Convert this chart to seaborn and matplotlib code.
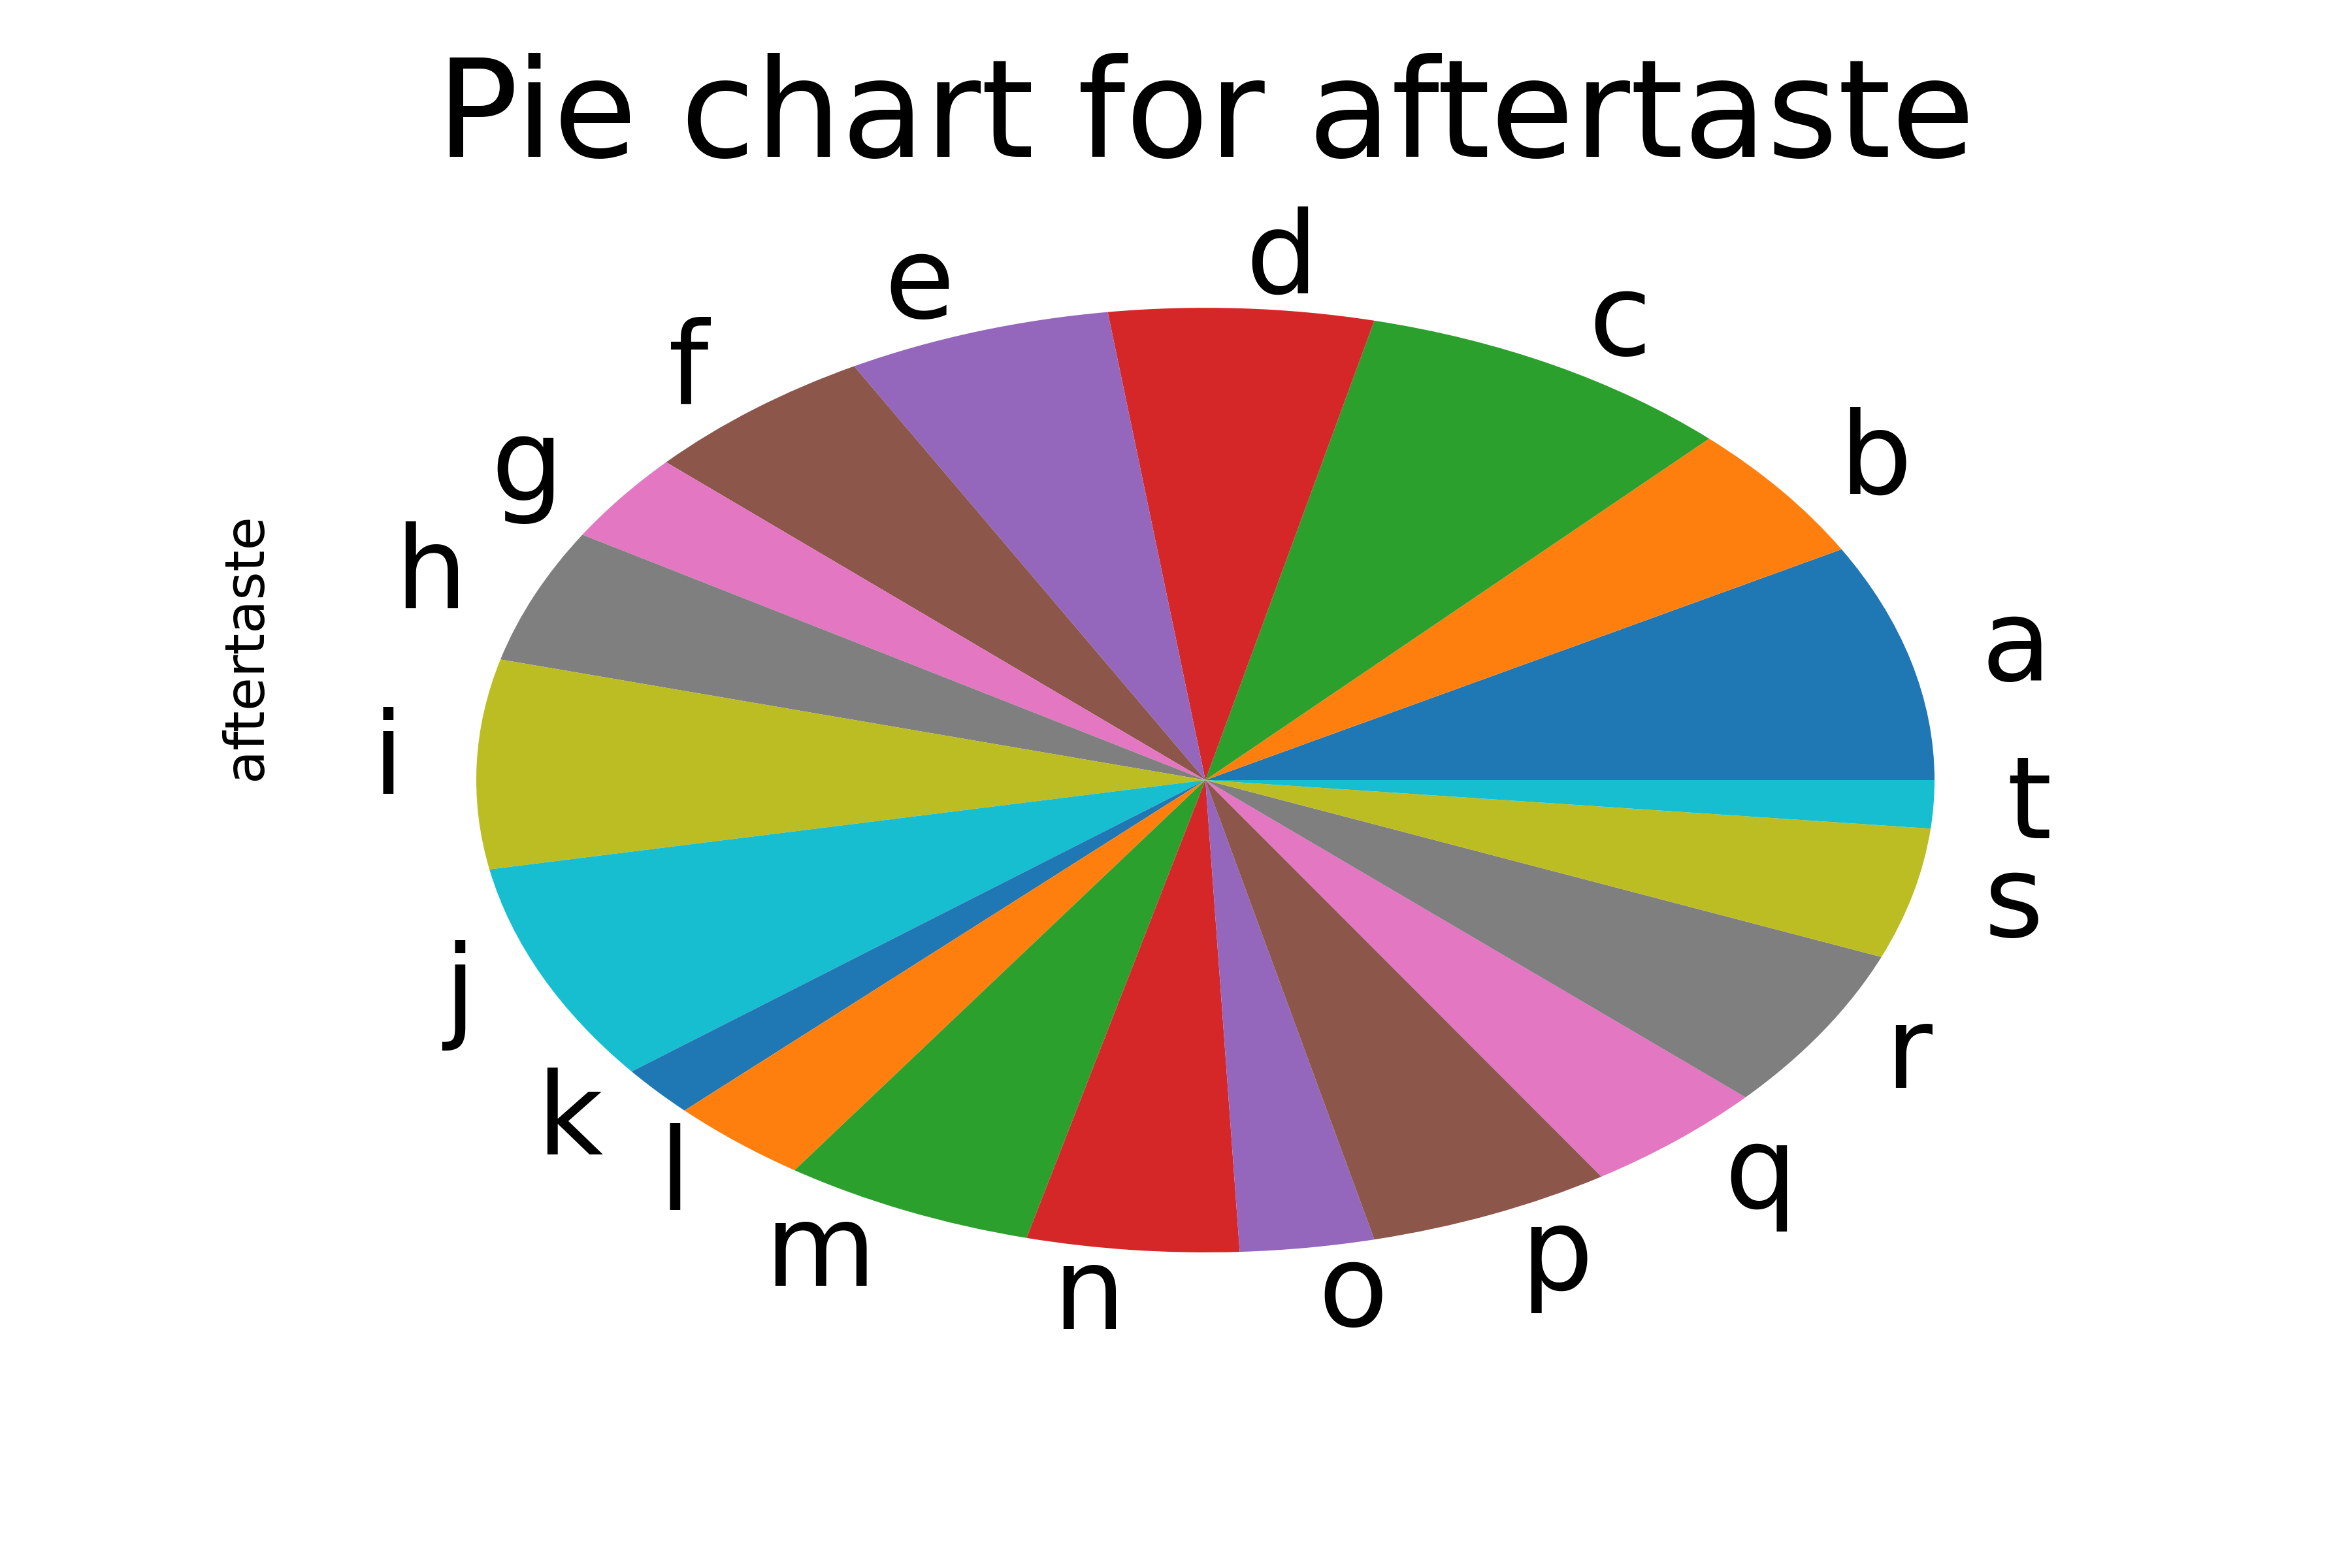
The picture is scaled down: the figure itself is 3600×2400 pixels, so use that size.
import matplotlib
matplotlib.use("Agg")
import matplotlib.pyplot as plt
import seaborn as sns

# slice labels and sizes (in degrees of the circle)
labels = list("abcdefghijklmnopqrst")
values = [29.25, 17.05, 30.3, 21.1, 21.1, 18.9, 11.0, 16.5, 25.7, 27.2,
          6.3, 11.3, 20.1, 16.9, 10.7, 19.5, 14.9, 20.2, 16.1, 5.9]

colors = sns.color_palette("tab10", 10)

fig, ax = plt.subplots(figsize=(6, 4), dpi=600)
fig.subplots_adjust(bottom=0.126, top=0.879)
ax.pie(values, labels=labels, colors=colors, textprops={"fontsize": 21})
ax.set_aspect("auto")
ax.set_ylabel("aftertaste", ha="left")
ax.set_title("Pie chart for aftertaste", fontsize=25)
fig.savefig("out.png", dpi=600)
